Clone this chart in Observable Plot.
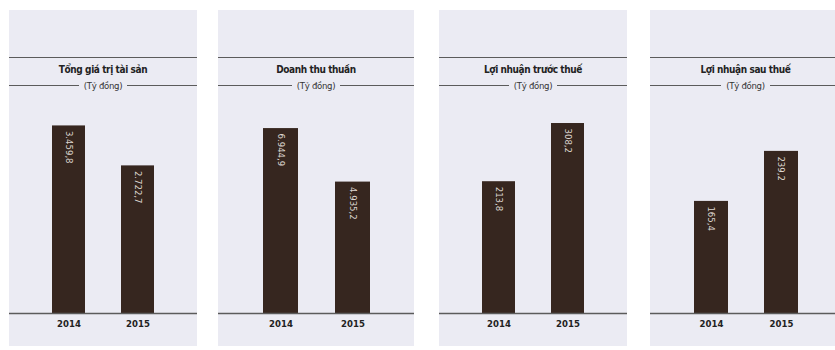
<!DOCTYPE html>
<html><head><meta charset="utf-8">
<script src="https://cdn.jsdelivr.net/npm/d3@7"></script>
<script src="https://cdn.jsdelivr.net/npm/@observablehq/plot@0.6"></script>
<style>
body{margin:0;background:#fff;font-family:"Liberation Sans Narrow","DejaVu Sans Condensed","DejaVu Sans",sans-serif;font-stretch:condensed;}
#root{position:relative;width:835px;height:350px;overflow:hidden;}
.panel{position:absolute;top:10px;height:336px;background:#ebebf3;}
.rule{position:absolute;left:0;right:0;height:0;border-top:1.5px solid #5b5b5b;}
.title{position:absolute;left:0;right:0;top:53px;line-height:14px;text-align:center;font-weight:bold;font-size:10px;letter-spacing:-0.4px;color:#222;}
.subwrap{position:absolute;left:0;right:0;top:67px;text-align:center;line-height:14px;}
.sub{background:#ebebf3;padding:0 5px;font-size:9.5px;letter-spacing:-0.3px;color:#333;position:relative;}
.panel svg{position:absolute;left:0;top:78px;overflow:visible;}
</style></head><body><div id="root"></div>
<script>
// ---- data ----
const years = ["2014", "2015"];
const titles = ["Tổng giá trị tài sản", "Doanh thu thuần", "Lợi nhuận trước thuế", "Lợi nhuận sau thuế"];
const unit = "(Tỷ đồng)";
const totalAssets = [3459.8, 2722.7];
const netRevenue = [6944.9, 4935.2];
const profitBeforeTax = [213.8, 308.2];
const profitAfterTax = [165.4, 239.2];

// ---- layout / scale settings ----
const series = [totalAssets, netRevenue, profitBeforeTax, profitAfterTax];
const panelLeft = [9, 218, 439, 650];
const panelWidth = [188, 196, 188, 191];
const yMax = [4150, 8450, 365, 332];

const fmt = d3.formatLocale({decimal: ",", thousands: ".", grouping: [3]}).format(",.1f");
const barColor = "#36261f";
const font = '"Liberation Sans Narrow","DejaVu Sans Condensed","DejaVu Sans",sans-serif';

const root = document.getElementById("root");
series.forEach((vals, i) => {
  const data = years.map((y, j) => ({year: y, value: vals[j]}));
  const panel = document.createElement("div");
  panel.className = "panel";
  panel.style.left = panelLeft[i] + "px";
  panel.style.width = panelWidth[i] + "px";
  panel.innerHTML = `<div class="rule" style="top:47px"></div>
    <div class="title">${titles[i]}</div>
    <div class="rule" style="top:75px"></div>
    <div class="subwrap"><span class="sub">${unit}</span></div>`;
  const chart = Plot.plot({
    width: panelWidth[i],
    height: 257,
    marginTop: 0,
    marginBottom: 32,
    marginLeft: 0,
    marginRight: 0,
    style: {background: "transparent", fontFamily: font, fontSize: "10px", overflow: "visible"},
    x: {domain: years, paddingInner: 0.52, paddingOuter: 0.62, axis: null},
    y: {domain: [0, yMax[i]], axis: null},
    marks: [
      Plot.barY(data, {x: "year", y: "value", fill: barColor}),
      Plot.text(data, {x: "year", y: "value", text: d => fmt(d.value), rotate: 90, textAnchor: "start",
        dy: 5, fill: "#ddd6d0", fontSize: 9.5}),
      Plot.ruleY([0], {stroke: "#5b5b5b", strokeWidth: 1.5}),
      Plot.text(data, {x: "year", text: "year", frameAnchor: "bottom", dy: 13, fontWeight: "bold",
        fontSize: 9.5, fill: "#222", style: "letter-spacing:-0.3px"})
    ]
  });
  panel.appendChild(chart);
  root.appendChild(panel);
});
</script>
</body></html>
